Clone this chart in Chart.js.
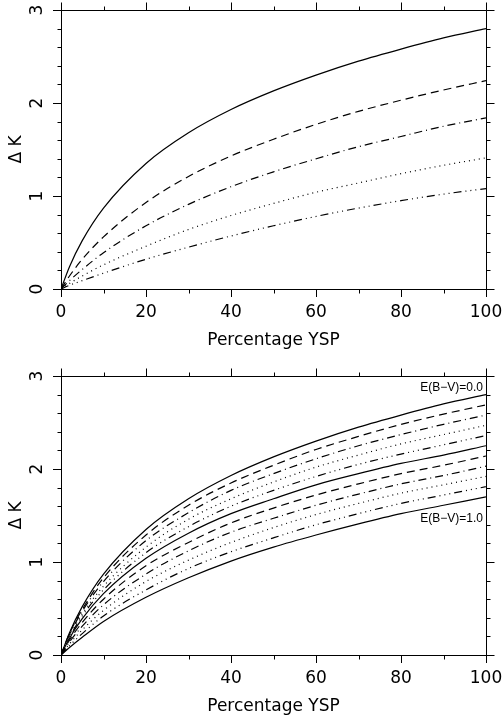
<!DOCTYPE html>
<html>
<head>
<meta charset="utf-8">
<script src="https://cdn.jsdelivr.net/npm/chart.js@4.4.1/dist/chart.umd.min.js"></script>
<style>
html, body { margin: 0; padding: 0; background: #fff; }
#wrap { position: relative; width: 502px; height: 722px; }
canvas { position: absolute; left: 0; }
</style>
</head>
<body>
<div id="wrap">
  <canvas id="chartTop" width="502" height="361" style="top:0px"></canvas>
  <canvas id="chartBottom" width="502" height="356" style="top:366px"></canvas>
</div>
<script>
// percentage YSP sampled along the curves
var xValues = [0, 2, 5, 10, 20, 30, 40, 50, 60, 70, 80, 90, 100];

// upper panel, five curves
var topSolid   = [0, 0.24, 0.52, 0.87, 1.35, 1.68, 1.93, 2.13, 2.30, 2.45, 2.58, 2.70, 2.80];
var topDashed  = [0, 0.14, 0.32, 0.56, 0.93, 1.21, 1.43, 1.61, 1.77, 1.91, 2.03, 2.14, 2.24];
var topDashDot = [0, 0.09, 0.21, 0.39, 0.68, 0.91, 1.10, 1.26, 1.40, 1.53, 1.64, 1.75, 1.84];
var topDotted  = [0, 0.06, 0.14, 0.26, 0.46, 0.64, 0.79, 0.92, 1.04, 1.14, 1.24, 1.33, 1.41];
var topDash3Dot = [0, 0.04, 0.09, 0.17, 0.32, 0.45, 0.57, 0.68, 0.78, 0.87, 0.95, 1.02, 1.08];

// lower panel, E(B-V) = 0.0 ... 1.0
var ebv00 = [0, 0.24, 0.52, 0.87, 1.35, 1.68, 1.93, 2.13, 2.30, 2.45, 2.58, 2.70, 2.80];
var ebv01 = [0, 0.23, 0.49, 0.83, 1.29, 1.61, 1.85, 2.04, 2.21, 2.35, 2.48, 2.59, 2.69];
var ebv02 = [0, 0.22, 0.47, 0.79, 1.23, 1.53, 1.77, 1.95, 2.11, 2.25, 2.37, 2.48, 2.58];
var ebv03 = [0, 0.20, 0.44, 0.74, 1.16, 1.46, 1.68, 1.86, 2.02, 2.15, 2.27, 2.37, 2.47];
var ebv04 = [0, 0.19, 0.42, 0.70, 1.10, 1.38, 1.60, 1.77, 1.92, 2.05, 2.16, 2.26, 2.36];
var ebv05 = [0, 0.18, 0.39, 0.66, 1.04, 1.31, 1.52, 1.68, 1.83, 1.95, 2.06, 2.15, 2.25];
var ebv06 = [0, 0.16, 0.35, 0.60, 0.96, 1.21, 1.42, 1.58, 1.72, 1.84, 1.95, 2.04, 2.14];
var ebv07 = [0, 0.14, 0.31, 0.54, 0.87, 1.12, 1.32, 1.47, 1.61, 1.73, 1.84, 1.93, 2.03];
var ebv08 = [0, 0.12, 0.27, 0.48, 0.79, 1.02, 1.21, 1.37, 1.51, 1.63, 1.74, 1.83, 1.92];
var ebv09 = [0, 0.10, 0.23, 0.42, 0.70, 0.93, 1.11, 1.26, 1.40, 1.52, 1.63, 1.72, 1.81];
var ebv10 = [0, 0.08, 0.19, 0.36, 0.62, 0.83, 1.01, 1.16, 1.29, 1.41, 1.52, 1.61, 1.70];

var xTitle = 'Percentage YSP';
var yTitle = '\u0394 K';
var ebvLabels = ['E(B\u2212V)=0.0', 'E(B\u2212V)=1.0'];

// pgplot style line patterns
var DASHES = [[], [8, 5], [8, 4, 1, 4], [1, 4], [8, 4, 1, 4, 1, 4, 1, 4]];
var AXIS_FONT = { family: 'DejaVu Sans', size: 17 };

function toPoints(vals) {
  return vals.map(function(v, i) { return { x: xValues[i], y: v }; });
}

function makeDatasets(list) {
  return list.map(function(vals, i) {
    return {
      data: toPoints(vals),
      borderColor: '#000',
      borderWidth: 1.2,
      borderDash: DASHES[i % 5],
      pointRadius: 0,
      fill: false,
      cubicInterpolationMode: 'monotone'
    };
  });
}

function px(v) { return Math.round(v) + 0.5; }

// top/right frame plus the minor ticks, all pointing outward
var frameTicks = {
  id: 'frameTicks',
  afterDraw: function(chart) {
    var ctx = chart.ctx, a = chart.chartArea;
    var xs = chart.scales.x, ys = chart.scales.y;
    var L = px(a.left), R = px(a.right), T = px(a.top), B = px(a.bottom);
    ctx.save();
    ctx.strokeStyle = '#000';
    ctx.lineWidth = 1;
    ctx.beginPath();
    ctx.moveTo(L, T); ctx.lineTo(R, T); ctx.lineTo(R, B);
    for (var v = 0; v <= 100; v += 10) {
      var x = px(xs.getPixelForValue(v));
      var len = (v % 20 === 0) ? 8 : 4;
      ctx.moveTo(x, T); ctx.lineTo(x, T - len);
      if (v % 20 !== 0) { ctx.moveTo(x, B); ctx.lineTo(x, B + len); }
    }
    for (var i = 0; i <= 15; i++) {
      var y = px(ys.getPixelForValue(i * 0.2));
      var major = (i % 5 === 0);
      var l2 = major ? 8 : 4;
      ctx.moveTo(R, y); ctx.lineTo(R + l2, y);
      if (!major) { ctx.moveTo(L, y); ctx.lineTo(L - l2, y); }
    }
    ctx.stroke();
    ctx.restore();
  }
};

var curveLabels = {
  id: 'curveLabels',
  afterDraw: function(chart) {
    var pos = chart.options.plugins.curveLabels;
    if (!pos || !pos.items) return;
    var ctx = chart.ctx;
    ctx.save();
    ctx.fillStyle = '#000';
    ctx.font = '12px "Liberation Sans"';
    ctx.textAlign = 'right';
    ctx.textBaseline = 'middle';
    pos.items.forEach(function(it) {
      ctx.fillText(it.text, chart.scales.x.getPixelForValue(it.x), chart.scales.y.getPixelForValue(it.y));
    });
    ctx.restore();
  }
};

function makeOptions(padBottom, labels) {
  return {
    responsive: false,
    animation: false,
    layout: { padding: { left: 0, top: 10, right: 16, bottom: padBottom } },
    plugins: {
      legend: { display: false },
      tooltip: { enabled: false },
      curveLabels: { items: labels }
    },
    scales: {
      x: {
        type: 'linear', min: 0, max: 100,
        ticks: { stepSize: 20, color: '#000', font: AXIS_FONT, padding: 5, maxRotation: 0 },
        grid: { drawOnChartArea: false, tickLength: 8, color: '#000', tickColor: '#000' },
        border: { color: '#000', width: 1 },
        title: { display: true, text: xTitle, color: '#000', font: AXIS_FONT, padding: { top: 0, bottom: 0 } },
        afterFit: function(s) { s.height = 62; s.paddingLeft = 0; s.paddingRight = 0; }
      },
      y: {
        type: 'linear', min: 0, max: 3,
        ticks: { stepSize: 1, color: '#000', font: AXIS_FONT, padding: 10, minRotation: 90, maxRotation: 90, crossAlign: 'center' },
        grid: { drawOnChartArea: false, tickLength: 8, color: '#000', tickColor: '#000' },
        border: { color: '#000', width: 1 },
        title: { display: true, text: yTitle, color: '#000', font: AXIS_FONT, padding: { top: 6, bottom: 0 } },
        afterFit: function(s) { s.width = 61; s.paddingTop = 0; s.paddingBottom = 0; }
      }
    }
  };
}

new Chart(document.getElementById('chartTop').getContext('2d'), {
  type: 'line',
  data: { datasets: makeDatasets([topSolid, topDashed, topDashDot, topDotted, topDash3Dot]) },
  options: makeOptions(10, null),
  plugins: [frameTicks]
});

new Chart(document.getElementById('chartBottom').getContext('2d'), {
  type: 'line',
  data: { datasets: makeDatasets([ebv00, ebv01, ebv02, ebv03, ebv04, ebv05, ebv06, ebv07, ebv08, ebv09, ebv10]) },
  options: makeOptions(5, [
    { text: ebvLabels[0], x: 99.3, y: 2.875 },
    { text: ebvLabels[1], x: 99.3, y: 1.47 }
  ]),
  plugins: [frameTicks, curveLabels]
});
</script>
</body>
</html>
